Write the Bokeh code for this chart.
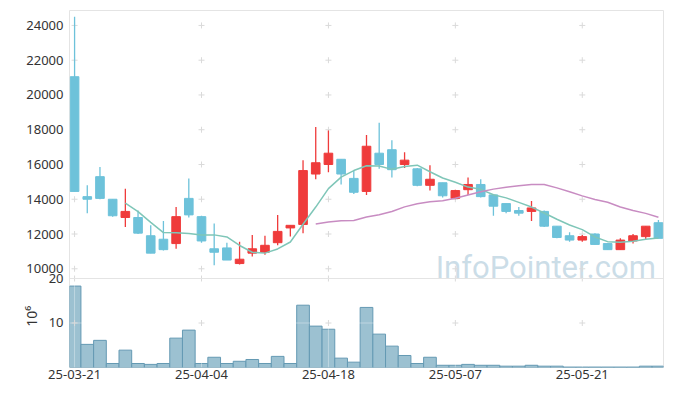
import pandas as pd
from bokeh.plotting import figure
from bokeh.models import (FixedTicker, Label, Range1d, ColumnDataSource, Span, LinearAxis)
from bokeh.embed import file_html
from bokeh.resources import INLINE

# ---------------- data ----------------
dates = ["25-03-21", "25-03-24", "25-03-25", "25-03-26", "25-03-27", "25-03-28", "25-03-31",
         "25-04-01", "25-04-02", "25-04-03", "25-04-04", "25-04-07", "25-04-08", "25-04-09",
         "25-04-10", "25-04-11", "25-04-14", "25-04-15", "25-04-16", "25-04-17", "25-04-18",
         "25-04-21", "25-04-22", "25-04-23", "25-04-24", "25-04-25", "25-04-28", "25-04-29",
         "25-04-30", "25-05-02", "25-05-07", "25-05-08", "25-05-09", "25-05-12", "25-05-13",
         "25-05-14", "25-05-15", "25-05-16", "25-05-19", "25-05-20", "25-05-21", "25-05-22",
         "25-05-23", "25-05-26", "25-05-27", "25-05-28", "25-05-29"]
opens = [21050, 14150, 15300, 14000, 12950, 12950, 11900, 11700, 11450, 14050, 13000, 11150,
         11200, 10300, 10900, 10950, 11500, 12350, 12550, 15450, 16000, 16300, 15200, 14450,
         16650, 16850, 16000, 15750, 14800, 14950, 14050, 14550, 14850, 14250, 13750, 13350,
         13300, 13300, 12450, 11900, 11650, 12000, 11450, 11100, 11600, 11850, 12650]
highs = [24500, 14800, 15850, 14000, 14600, 13350, 12500, 12750, 13550, 15200, 13050, 12600,
         11500, 11550, 11950, 11900, 13100, 12500, 16250, 18150, 17950, 16300, 15650, 17700,
         18400, 17400, 16700, 15800, 15950, 14950, 14550, 15250, 15150, 14250, 13750, 13550,
         13900, 13350, 12450, 12100, 11950, 12050, 11450, 11750, 12000, 12450, 12800]
lows = [14450, 13200, 14000, 13000, 12400, 12000, 10900, 11050, 11150, 12950, 11500, 10200,
        10500, 10250, 10700, 10800, 11350, 11850, 12050, 15150, 15550, 14850, 14300, 14250,
        15750, 15250, 15800, 14750, 14500, 14100, 14000, 14250, 14100, 13050, 13200, 13050,
        12750, 12400, 11750, 11550, 11550, 11400, 11100, 11100, 11450, 11700, 11750]
closes = [14450, 14000, 14050, 13050, 13300, 12050, 10900, 11100, 13000, 13100, 11600, 10950,
          10500, 10550, 11150, 11350, 12150, 12500, 15650, 16100, 16650, 15450, 14400, 17050,
          16000, 15700, 16250, 14800, 15150, 14200, 14500, 14850, 14150, 13600, 13300, 13200,
          13500, 12450, 11800, 11650, 11850, 11400, 11100, 11650, 11900, 12450, 11750]
volumes = [18.3, 5.2, 6.1, 0.9, 3.9, 0.9, 0.7, 0.9, 6.6, 8.4, 0.9, 2.3, 0.9, 1.4, 1.8, 0.9,
           2.5, 0.9, 14.0, 9.3, 8.6, 2.1, 1.2, 13.5, 7.5, 4.8, 2.7, 0.9, 2.3, 0.5, 0.5, 0.7,
           0.5, 0.5, 0.3, 0.3, 0.5, 0.3, 0.3, 0.1, 0.1, 0.1, 0.1, 0.1, 0.1, 0.3, 0.3]  # x10^6
x_tick_idx = [0, 10, 20, 30, 40]
price_ticks = [10000, 12000, 14000, 16000, 18000, 20000, 22000, 24000]
volume_ticks = [10, 20]
volume_unit = "10⁶"

# ---------------- derived ----------------
UP, DOWN = "#ef3b3b", "#6dc2da"
idx = list(range(len(dates)))
colors = [UP if c >= o else DOWN for o, c in zip(opens, closes)]
df = pd.DataFrame(dict(x=idx, open=opens, high=highs, low=lows, close=closes,
                       vol=volumes, color=colors))
df["top"] = df[["open", "close"]].max(axis=1)
df["bottom"] = df[["open", "close"]].min(axis=1)
ma5 = pd.Series(closes).rolling(5).mean()
ma20 = pd.Series(closes).rolling(20).mean()
src = ColumnDataSource(df)

FONT = "Noto Sans"
GRID = "#dadada"
OUTLINE = "#e4e4e4"
TEXT = "#333333"

# layout of the two panels inside one frame (pixels)
PRICE_PX, VOL_PX = 268, 89
PRICE_TOP, SPLIT = 24860, 9440
VOL_MAX = 20
price_start = SPLIT - (PRICE_TOP - SPLIT) * VOL_PX / PRICE_PX      # bottom of the frame
vol_end = VOL_MAX * (PRICE_PX + VOL_PX) / VOL_PX                 # top of frame in volume units


def vol_to_price(vv):
    return int(round(price_start + vv * (SPLIT - price_start) / VOL_MAX))


p = figure(width=665, height=389, x_range=Range1d(-0.4, 46.4),
           y_range=Range1d(price_start, PRICE_TOP),
           output_backend="svg", toolbar_location=None,
           min_border_left=69, min_border_right=2, min_border_top=10, min_border_bottom=22)
p.extra_y_ranges = {"vol": Range1d(0, vol_end)}
p.grid.visible = False
p.outline_line_color = OUTLINE
p.background_fill_color = "white"
p.border_fill_color = "white"

# divider between the two panels
p.add_layout(Span(location=SPLIT, dimension="width", line_color=OUTLINE, line_width=1))


def style_axis(ax):
    ax.axis_line_color = None
    ax.major_tick_line_color = None
    ax.minor_tick_line_color = None
    ax.major_tick_out = 0
    ax.major_tick_in = 0
    ax.minor_tick_out = 0
    ax.minor_tick_in = 0
    ax.major_label_text_font = FONT
    ax.major_label_text_font_size = "13px"
    ax.major_label_text_color = TEXT


# y axis: price ticks and volume ticks on the same axis
vol_tick_prices = [vol_to_price(t) for t in volume_ticks]
yax = p.yaxis[0]
yax.ticker = FixedTicker(ticks=price_ticks + vol_tick_prices)
yax.major_label_overrides = {vp: str(t) for vp, t in zip(vol_tick_prices, volume_ticks)}
style_axis(yax)
yax.major_label_standoff = 6
xax = p.xaxis[0]
xax.ticker = FixedTicker(ticks=x_tick_idx)
xax.major_label_overrides = {i: dates[i] for i in x_tick_idx}
style_axis(xax)
xax.major_label_standoff = 2

# unit of the volume panel, written as a rotated label beside it
uax = LinearAxis(y_range_name="vol", ticker=FixedTicker(ticks=[11.5]),
                 major_label_overrides={11.5: volume_unit}, major_label_orientation="vertical")
style_axis(uax)
uax.major_label_text_font_size = "14px"
uax.major_label_standoff = -18
p.add_layout(uax, "left")

# grid crosses at tick intersections
cx = [x for x in x_tick_idx for _ in price_ticks]
cy = [y for _ in x_tick_idx for y in price_ticks]
p.scatter(cx, cy, marker="cross", size=6, line_color=GRID, line_width=1)
vx = [x for x in x_tick_idx for _ in volume_ticks]
vy = [y for _ in x_tick_idx for y in volume_ticks]

# watermark
p.add_layout(Label(x=45.8, y=10080, text="InfoPointer.com", text_align="right",
                   text_baseline="alphabetic", text_font="Roboto", text_font_size="31px",
                   text_color="#a9c6d8", text_alpha=0.6, level="underlay"))

# candles
p.segment("x", "high", "x", "low", source=src, line_color="color", line_width=1.3)
p.vbar("x", 0.68, "top", "bottom", source=src, fill_color="color", line_color="color",
       line_width=1)
p.line(idx, ma5, line_color="#7fc6b8", line_width=1.5)
p.line(idx, ma20, line_color="#c88cc2", line_width=1.5)

# volume
p.vbar("x", 1.0, "vol", 0, source=src, fill_color="#9cc1d1", line_color="#6499b3",
       line_width=1, y_range_name="vol")
# faint light grid lines seen through the volume bars
p.segment(x_tick_idx, [0] * len(x_tick_idx), x_tick_idx, [VOL_MAX] * len(x_tick_idx),
          line_color="white", line_alpha=0.35, line_width=1, y_range_name="vol")
p.segment([-0.4], [10], [46.4], [10], line_color="white", line_alpha=0.35, line_width=1,
          y_range_name="vol")
p.scatter(vx, vy, marker="cross", size=6, line_color=GRID, line_width=1, y_range_name="vol")

open("out.html", "w").write(file_html(p, INLINE))
